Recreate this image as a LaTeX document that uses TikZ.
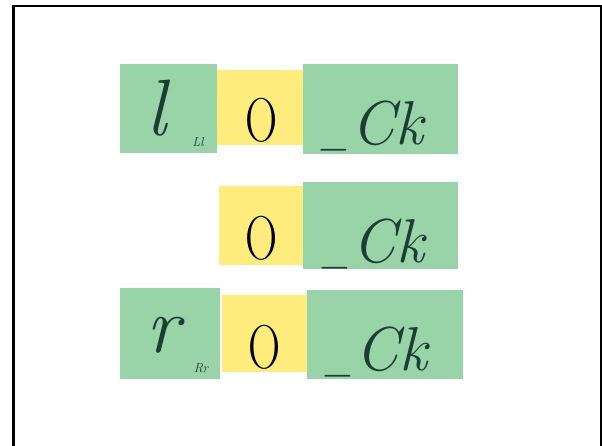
\documentclass[tikz,border=0pt]{standalone}
\definecolor{notegreen}{RGB}{152,212,168}
\definecolor{noteyellow}{RGB}{254,236,124}
\definecolor{inkgreen}{RGB}{28,62,50}
\newcommand{\shortus}{\raisebox{2pt}{\scalebox{0.55}[1]{\_}}\hspace{4pt}}
\begin{document}
\begin{tikzpicture}[x=1pt,y=-1pt,
  greennote/.style={fill=notegreen,draw=none,rectangle,inner sep=0pt},
  yellownote/.style={fill=noteyellow,draw=none,rectangle,inner sep=0pt},
  bigink/.style={text=inkgreen,font=\fontsize{62}{62}\selectfont\itshape,inner sep=0pt},
  bigblack/.style={text=black,font=\fontsize{62}{62}\selectfont,inner sep=0pt,xscale=0.72,transform shape},
  smallink/.style={text=inkgreen,font=\fontsize{13}{13}\selectfont\itshape,inner sep=0pt}]
\useasboundingbox (0,0) rectangle (602,445);
\draw[line width=2.8pt,black] (13.5,6) rectangle (601,460);
% row 1
\node[yellownote,minimum width=90pt,minimum height=75pt] (y1) at (262,107.5) {};
\node[greennote,minimum width=97pt,minimum height=89pt] (g1a) at (168.5,108.5) {};
\node[greennote,minimum width=155pt,minimum height=90pt] (g1b) at (380.5,109) {};
% row 2
\node[yellownote,minimum width=86pt,minimum height=79pt] (y2) at (262,225.5) {};
\node[greennote,minimum width=155pt,minimum height=87pt] (g2b) at (380.5,225.5) {};
% row 3
\node[yellownote,minimum width=86pt,minimum height=77pt] (y3) at (265,333.5) {};
\node[greennote,minimum width=100pt,minimum height=91pt] (g3a) at (170,333.5) {};
\node[greennote,minimum width=156pt,minimum height=89pt] (g3b) at (385,334.5) {};
% texts
\node[bigink,font=\fontsize{80}{80}\selectfont\itshape] (t1a) at (156,108) {l};
\node[smallink] (s1) at (198,142) {Ll};
\node[bigblack] (t1o) at (262,120) {O};
\node[bigink,anchor=base] (t1c) at (373,144) {\shortus Ck};
\node[bigblack] (t2o) at (262,238) {O};
\node[bigink,anchor=base] (t2c) at (374,262) {\shortus Ck};
\node[bigink,font=\fontsize{80}{80}\selectfont\itshape] (t3a) at (163,335) {r};
\node[smallink] (s3) at (201,368) {Rr};
\node[bigblack] (t3o) at (265,347) {O};
\node[bigink,anchor=base] (t3c) at (377,370) {\shortus Ck};
\end{tikzpicture}
\end{document}
